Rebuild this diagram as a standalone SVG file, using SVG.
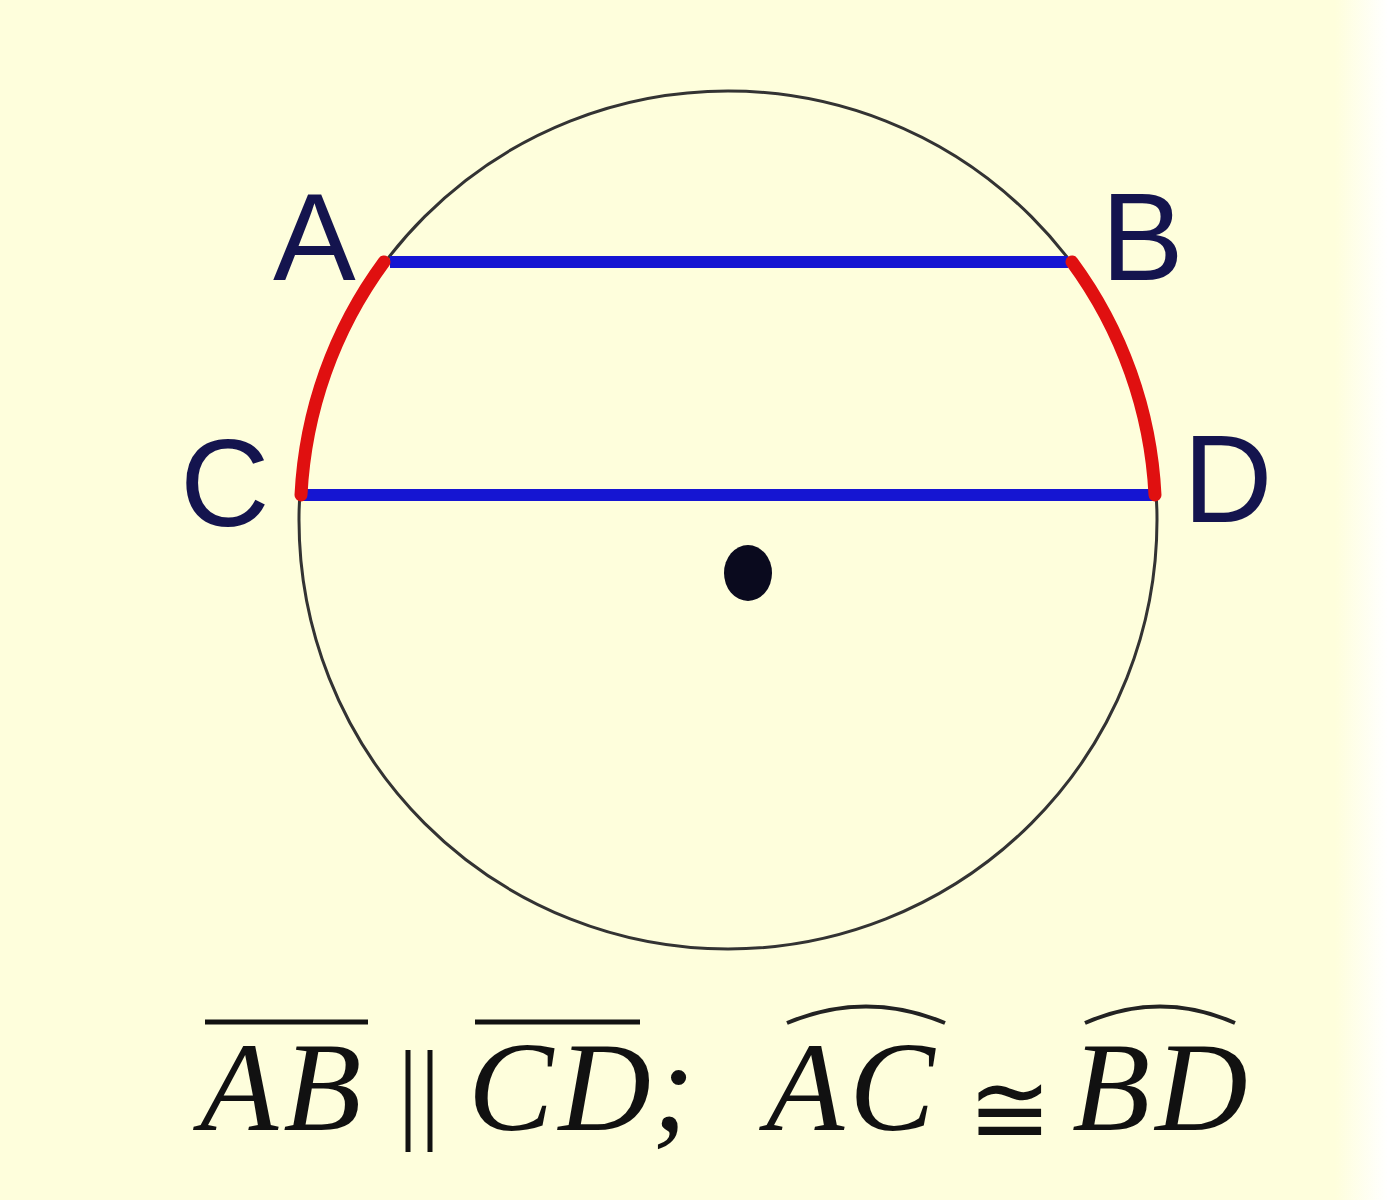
<svg xmlns="http://www.w3.org/2000/svg" width="1388" height="1200" viewBox="0 0 1388 1200">
<defs>
<linearGradient id="edge" x1="0" y1="0" x2="1" y2="0">
<stop offset="0" stop-color="#FEFEDC"/>
<stop offset="1" stop-color="#FFFFFF"/>
</linearGradient>
<style>
.lbl{font-family:"Liberation Sans",Arial,sans-serif;font-size:124px;fill:#14144e}
.math{font-family:"Liberation Serif","Times New Roman",serif;font-style:italic;font-size:128px;fill:#111;letter-spacing:5px}
.chord{stroke:#1515d2;stroke-width:12;stroke-linecap:butt}
.arc{fill:none;stroke:#e01010;stroke-width:13;stroke-linecap:round}
.bar{stroke:#111;stroke-width:5}
.hat{fill:none;stroke:#222;stroke-width:4}
</style>
</defs>
<rect x="0" y="0" width="1388" height="1200" fill="#FEFEDC"/>
<rect x="1335" y="0" width="53" height="1200" fill="url(#edge)"/>
<g id="circle">
<circle cx="728" cy="520" r="429" fill="none" stroke="#333" stroke-width="3"/>
</g>
<g id="center">
<ellipse cx="748" cy="573" rx="24" ry="28" fill="#0a0a1e"/>
</g>
<g id="connectors">
<line class="chord" x1="390" y1="262" x2="1068" y2="262"/>
<line class="chord" x1="302" y1="495" x2="1155" y2="495"/>
<path class="arc" d="M384 262 A429 429 0 0 0 301 495"/>
<path class="arc" d="M1072 262 A429 429 0 0 1 1155 495"/>
</g>
<g id="label-A"><text class="lbl" x="273" y="280">A</text></g>
<g id="label-B"><text class="lbl" x="1101" y="280">B</text></g>
<g id="label-C"><text class="lbl" x="180" y="526">C</text></g>
<g id="label-D"><text class="lbl" x="1183" y="522">D</text></g>
<g id="formula">
<text class="math" x="200" y="1130">AB</text>
<line class="bar" x1="205" y1="1022" x2="368" y2="1022"/>
<line class="bar" x1="408" y1="1050" x2="408" y2="1152"/>
<line class="bar" x1="430" y1="1050" x2="430" y2="1152"/>
<text class="math" x="468" y="1130">CD</text>
<line class="bar" x1="475" y1="1022" x2="640" y2="1022"/>
<text class="math" x="652" y="1130" style="letter-spacing:0">;</text>
<text class="math" x="766" y="1130">AC</text>
<path class="hat" d="M787 1023 Q866 990 945 1023"/>
<text x="968" y="1144" font-family="DejaVu Sans, sans-serif" font-size="100" fill="#111">≅</text>
<text class="math" x="1072" y="1130">BD</text>
<path class="hat" d="M1085 1023 Q1160 990 1235 1023"/>
</g>
</svg>
